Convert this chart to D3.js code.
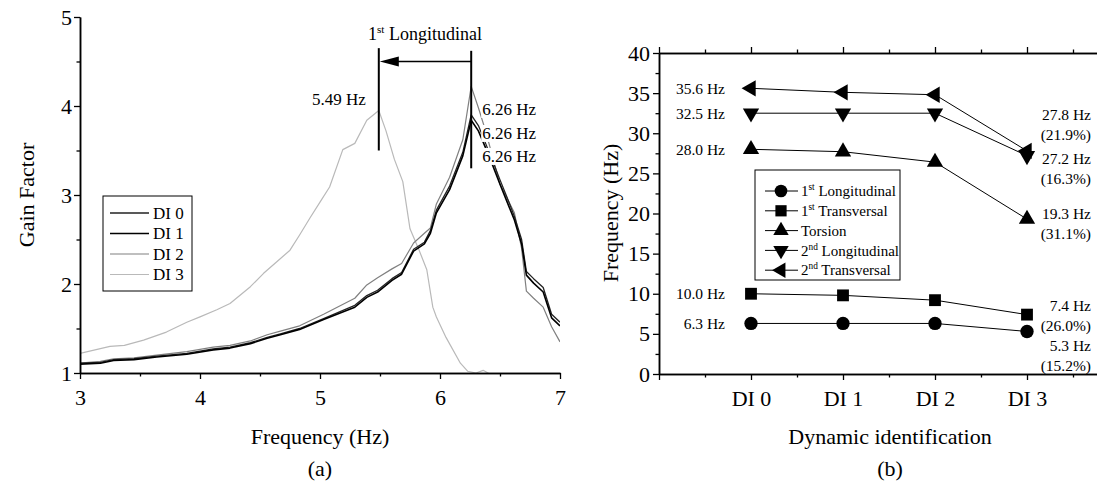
<!DOCTYPE html>
<html>
<head>
<meta charset="utf-8">
<script src="https://cdn.jsdelivr.net/npm/d3@7"></script>
<style>
 body { margin: 0; background: #fff; }
 svg { font-family: "Liberation Serif", "Times New Roman", serif; }
</style>
</head>
<body>
<script>
'use strict'
// ---- data for (a): gain factor against frequency ----
const freqA = [3.0, 3.17, 3.28, 3.45, 3.64, 3.89, 4.11, 4.25, 4.42, 4.56, 4.67, 4.83, 5.03, 5.29, 5.39, 5.48, 5.6, 5.68, 5.78, 5.87, 5.92, 5.97, 6.08, 6.19, 6.26, 6.32, 6.38, 6.44, 6.5, 6.56, 6.62, 6.68, 6.72, 6.78, 6.86, 6.93, 7.0];
const gainDI0 = [1.11, 1.12, 1.15, 1.16, 1.19, 1.22, 1.27, 1.29, 1.34, 1.40, 1.44, 1.50, 1.61, 1.76, 1.87, 1.93, 2.06, 2.13, 2.39, 2.47, 2.60, 2.83, 3.10, 3.48, 3.90, 3.78, 3.58, 3.38, 3.17, 2.97, 2.76, 2.50, 2.14, 2.06, 1.96, 1.66, 1.57];
const gainDI1 = [1.10, 1.11, 1.14, 1.15, 1.18, 1.21, 1.26, 1.28, 1.33, 1.39, 1.43, 1.49, 1.60, 1.74, 1.85, 1.91, 2.04, 2.11, 2.37, 2.45, 2.57, 2.80, 3.06, 3.44, 3.84, 3.72, 3.53, 3.33, 3.12, 2.92, 2.72, 2.45, 2.10, 2.01, 1.91, 1.62, 1.53];
const gainDI2 = [1.11, 1.13, 1.16, 1.17, 1.20, 1.24, 1.29, 1.31, 1.36, 1.43, 1.47, 1.53, 1.66, 1.84, 1.99, 2.07, 2.17, 2.23, 2.46, 2.57, 2.63, 2.90, 3.20, 3.62, 4.22, 3.98, 3.72, 3.42, 3.12, 2.96, 2.80, 2.40, 1.92, 1.84, 1.74, 1.52, 1.35];
const freqDI3 = [3.0, 3.25, 3.37, 3.53, 3.72, 3.89, 4.0, 4.14, 4.25, 4.42, 4.53, 4.64, 4.75, 4.83, 4.92, 5.0, 5.08, 5.19, 5.29, 5.39, 5.49, 5.55, 5.62, 5.69, 5.75, 5.82, 5.89, 5.94, 5.97, 6.05, 6.17, 6.23, 6.3, 6.36, 6.4, 6.45];
const gainDI3 = [1.22, 1.30, 1.31, 1.37, 1.46, 1.57, 1.63, 1.71, 1.78, 1.97, 2.12, 2.25, 2.38, 2.55, 2.75, 2.92, 3.09, 3.51, 3.58, 3.84, 3.95, 3.72, 3.40, 3.15, 2.62, 2.40, 2.16, 1.74, 1.63, 1.40, 1.11, 1.02, 1.00, 1.03, 1.00, 0.95];
const curveNames = ["DI 0", "DI 1", "DI 2", "DI 3"];
const peakOld = 6.26;
const peakNew = 5.49;
const xTicksA = [3, 4, 5, 6, 7];
const yTicksA = [1, 2, 3, 4, 5];

// ---- data for (b): modal frequencies per identification ----
const stages = ["DI 0", "DI 1", "DI 2", "DI 3"];
const longit1 = [6.3, 6.3, 6.3, 5.3];
const transv1 = [10.0, 9.8, 9.2, 7.4];
const torsion = [28.0, 27.7, 26.4, 19.3];
const longit2 = [32.5, 32.5, 32.5, 27.2];
const transv2 = [35.6, 35.1, 34.8, 27.8];
const modeNames = [["1", "st", " Longitudinal"], ["1", "st", " Transversal"], ["Torsion", "", ""], ["2", "nd", " Longitudinal"], ["2", "nd", " Transversal"]];
const startLabels = ["6.3 Hz", "10.0 Hz", "28.0 Hz", "32.5 Hz", "35.6 Hz"];
const endLabels = [["5.3 Hz", "(15.2%)"], ["7.4 Hz", "(26.0%)"], ["19.3 Hz", "(31.1%)"], ["27.2 Hz", "(16.3%)"], ["27.8 Hz", "(21.9%)"]];
const yTicksB = [0, 5, 10, 15, 20, 25, 30, 35, 40];

// styles kept apart from the values
const curveStyle = [
 { color: "#222", width: 1.3 },
 { color: "#000", width: 1.6 },
 { color: "#808080", width: 1.2 },
 { color: "#b9b9b9", width: 1.2 }
];
const endLabelDy = [14, -9, -6, 3, -36];

let svg = d3.select("body").append("svg")
 .attr("width", 1097)
 .attr("height", 487);

// text with a superscript part, e.g. 1st
function supText(sel, parts, shift) {
 sel.append("tspan").text(parts[0]);
 if (parts[1]) {
  sel.append("tspan").attr("font-size", "0.62em").attr("dy", -shift).text(parts[1]);
  sel.append("tspan").attr("dy", shift).text(parts[2]);
 }
}

// major + minor ticks for one axis
function drawAxis(g, axisFn, scale, major, minor, fmt) {
 g.append("g").call(axisFn(scale).tickValues(minor).tickSize(3.5).tickSizeOuter(0).tickFormat(""));
 let a = g.append("g").call(axisFn(scale).tickValues(major).tickSize(6).tickSizeOuter(0).tickFormat(fmt));
 g.selectAll("path").attr("stroke-width", 1.5);
 g.selectAll("line").attr("stroke-width", 1.3);
 return a;
}

// ================= (a) =================
let xA = d3.scaleLinear().domain([3, 7]).range([80, 560]);
let yA = d3.scaleLinear().domain([1, 5]).range([373, 17]);

svg.append("clipPath").attr("id", "clipA")
 .append("rect").attr("x", 80).attr("y", 17).attr("width", 480).attr("height", 356);

let seriesA = [
 freqA.map((f, i) => [f, gainDI0[i]]),
 freqA.map((f, i) => [f, gainDI1[i]]),
 freqA.map((f, i) => [f, gainDI2[i]]),
 freqDI3.map((f, i) => [f, gainDI3[i]])
];
let lineA = d3.line().x(d => xA(d[0])).y(d => yA(d[1]));

let plotA = svg.append("g").attr("clip-path", "url(#clipA)");
// light curves first, dark on top
[3, 2, 0, 1].forEach(k => {
 plotA.append("path")
  .attr("d", lineA(seriesA[k]))
  .attr("fill", "none")
  .attr("stroke", curveStyle[k].color)
  .attr("stroke-width", curveStyle[k].width)
  .attr("stroke-linejoin", "round");
});

// axes (a)
let axA = svg.append("g").attr("transform", `translate(0,${yA(1)})`);
drawAxis(axA, d3.axisBottom, xA, xTicksA, [3.5, 4.5, 5.5, 6.5], d3.format("d"))
 .selectAll("text").attr("font-size", 22).attr("font-family", "Liberation Serif").attr("fill", "#000").attr("y", 16);
let ayA = svg.append("g").attr("transform", `translate(${xA(3)},0)`);
drawAxis(ayA, d3.axisLeft, yA, yTicksA, [1.5, 2.5, 3.5, 4.5], d3.format("d"))
 .selectAll("text").attr("font-size", 22).attr("font-family", "Liberation Serif").attr("fill", "#000").attr("x", -8);

// peak markers and arrow
let ann = svg.append("g").attr("stroke", "#000").attr("stroke-width", 2);
ann.append("line").attr("x1", xA(peakNew)).attr("x2", xA(peakNew)).attr("y1", yA(4.65)).attr("y2", yA(3.5));
ann.append("line").attr("x1", xA(peakOld)).attr("x2", xA(peakOld)).attr("y1", yA(4.62)).attr("y2", yA(3.3));
ann.append("line").attr("x1", xA(peakOld)).attr("x2", xA(peakNew) + 14).attr("y1", yA(4.5)).attr("y2", yA(4.5)).attr("stroke-width", 1.5);
svg.append("path")
 .attr("d", `M${xA(peakNew) + 1},${yA(4.5)} L${xA(peakNew) + 20},${yA(4.5) - 5} L${xA(peakNew) + 20},${yA(4.5) + 5} Z`)
 .attr("fill", "#000");

let title = svg.append("text")
 .attr("x", (xA(peakNew) + xA(peakOld)) / 2)
 .attr("y", 40)
 .attr("text-anchor", "middle")
 .attr("font-size", 18);
supText(title, ["1", "st", " Longitudinal"], 7);

// frequency labels with white background
function boxLabel(x, y, txt, anchor) {
 let t = svg.append("text").attr("x", x).attr("y", y).attr("dy", "0.35em")
  .attr("text-anchor", anchor).attr("font-size", 17).text(txt);
 let b = t.node().getBBox();
 svg.insert("rect", function () { return t.node(); })
  .attr("x", b.x - 1).attr("y", b.y + 1).attr("width", b.width + 2).attr("height", b.height - 2)
  .attr("fill", "#fff");
}
boxLabel(xA(peakNew) - 13, 99, peakNew.toFixed(2) + " Hz", "end");
[109, 133, 156].forEach(y => boxLabel(xA(peakOld) + 11, y, peakOld.toFixed(2) + " Hz", "start"));

// legend (a)
let legA = svg.append("g");
legA.append("rect").attr("x", 103).attr("y", 196).attr("width", 89).attr("height", 95)
 .attr("fill", "#fff").attr("stroke", "#000").attr("stroke-width", 1);
curveNames.forEach((name, i) => {
 let y = 213 + i * 20.5;
 legA.append("line").attr("x1", 110).attr("x2", 149).attr("y1", y).attr("y2", y)
  .attr("stroke", curveStyle[i].color).attr("stroke-width", curveStyle[i].width);
 legA.append("text").attr("x", 153).attr("y", y).attr("dy", "0.35em").attr("font-size", 17).text(name);
});

svg.append("text").attr("transform", "translate(26,195) rotate(-90)").attr("text-anchor", "middle")
 .attr("dy", "0.35em").attr("font-size", 22).text("Gain Factor");
svg.append("text").attr("x", 320).attr("y", 436).attr("dy", "0.35em").attr("text-anchor", "middle")
 .attr("font-size", 22).text("Frequency (Hz)");
svg.append("text").attr("x", 320).attr("y", 468).attr("dy", "0.35em").attr("text-anchor", "middle")
 .attr("font-size", 22).text("(a)");

// ================= (b) =================
let xB = d3.scaleLinear().domain([-1, 4]).range([659, 1119]);
let yB = d3.scaleLinear().domain([0, 40]).range([374, 53]);

let axB = svg.append("g").attr("transform", `translate(0,${yB(0)})`);
drawAxis(axB, d3.axisBottom, xB, [-1, 0, 1, 2, 3, 4], [-0.5, 0.5, 1.5, 2.5, 3.5], d => d >= 0 && d <= 3 ? stages[d] : "")
 .selectAll("text").attr("font-size", 22).attr("font-family", "Liberation Serif").attr("fill", "#000").attr("y", 16);
let atB = svg.append("g").attr("transform", `translate(0,${yB(40)})`);
drawAxis(atB, d3.axisTop, xB, [-1, 0, 1, 2, 3, 4], [-0.5, 0.5, 1.5, 2.5, 3.5], "");
let ayB = svg.append("g").attr("transform", `translate(${xB(-1)},0)`);
drawAxis(ayB, d3.axisLeft, yB, yTicksB, d3.range(2.5, 40, 5), d3.format("d"))
 .selectAll("text").attr("font-size", 22).attr("font-family", "Liberation Serif").attr("fill", "#000").attr("x", -9);

let modes = [longit1, transv1, torsion, longit2, transv2];
let symbols = [
 { type: d3.symbolCircle, size: 140, rot: 0 },
 { type: d3.symbolSquare, size: 140, rot: 0 },
 { type: d3.symbolTriangle, size: 115, rot: 0 },
 { type: d3.symbolTriangle, size: 115, rot: 180 },
 { type: d3.symbolTriangle, size: 115, rot: -90 }
];
let lineB = d3.line().x((d, i) => xB(i)).y(d => yB(d));

modes.forEach((vals, m) => {
 svg.append("path").attr("d", lineB(vals)).attr("fill", "none").attr("stroke", "#000").attr("stroke-width", 1);
});
modes.forEach((vals, m) => {
 svg.selectAll(null).data(vals).enter().append("path")
  .attr("d", d3.symbol().type(symbols[m].type).size(symbols[m].size))
  .attr("transform", (d, i) => `translate(${xB(i)},${yB(d)}) rotate(${symbols[m].rot})`)
  .attr("fill", "#000");
});

// value labels left and right of the series
modes.forEach((vals, m) => {
 svg.append("text").attr("x", 725).attr("y", yB(vals[0])).attr("dy", "0.35em")
  .attr("text-anchor", "end").attr("font-size", 15.5).text(startLabels[m]);
 let y0 = yB(vals[3]) + endLabelDy[m];
 endLabels[m].forEach((s, j) => {
  svg.append("text").attr("x", 1091).attr("y", y0 + j * 20).attr("dy", "0.35em")
   .attr("text-anchor", "end").attr("font-size", 15.5).text(s);
 });
});

// legend (b)
let legB = svg.append("g");
legB.append("rect").attr("x", 755).attr("y", 170).attr("width", 145).attr("height", 110)
 .attr("fill", "#fff").attr("stroke", "#000").attr("stroke-width", 1);
modeNames.forEach((parts, m) => {
 let y = 191 + m * 19.8;
 legB.append("line").attr("x1", 765).attr("x2", 798).attr("y1", y).attr("y2", y).attr("stroke", "#000").attr("stroke-width", 1);
 legB.append("path")
  .attr("d", d3.symbol().type(symbols[m].type).size(symbols[m].size * 0.9))
  .attr("transform", `translate(781,${y}) rotate(${symbols[m].rot})`).attr("fill", "#000");
 let t = legB.append("text").attr("x", 801).attr("y", y).attr("dy", "0.35em").attr("font-size", 15);
 supText(t, parts, 6);
});

svg.append("text").attr("transform", "translate(610,213) rotate(-90)").attr("text-anchor", "middle")
 .attr("dy", "0.35em").attr("font-size", 22).text("Frequency (Hz)");
svg.append("text").attr("x", 890).attr("y", 436).attr("dy", "0.35em").attr("text-anchor", "middle")
 .attr("font-size", 22).text("Dynamic identification");
svg.append("text").attr("x", 890).attr("y", 468).attr("dy", "0.35em").attr("text-anchor", "middle")
 .attr("font-size", 22).text("(b)");
</script>
</body>
</html>
